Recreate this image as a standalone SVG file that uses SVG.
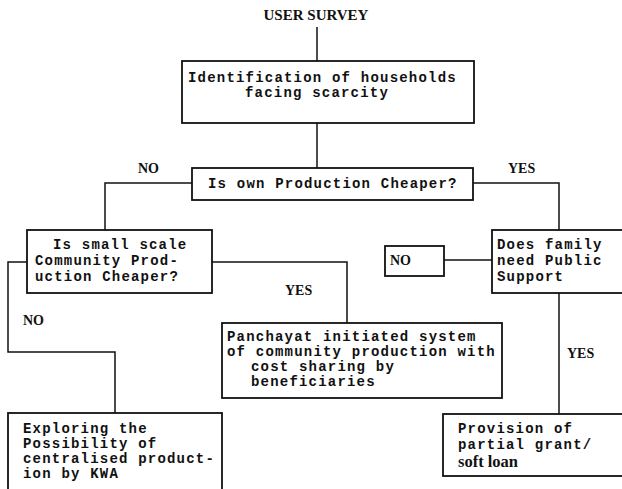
<svg xmlns="http://www.w3.org/2000/svg" width="622" height="489" viewBox="0 0 622 489">
<style>
  .box{fill:#fff;stroke:#111;stroke-width:1.8}
  .ln{fill:none;stroke:#111;stroke-width:1.5}
  .m{font-family:"Liberation Mono","Courier New",monospace;font-size:14px;letter-spacing:1.2px;font-weight:bold;fill:#111}
  .s{font-family:"Liberation Serif","Times New Roman",serif;font-size:14px;font-weight:bold;fill:#111}
</style>
<rect width="622" height="489" fill="#fff"/>
<g id="connectors">
  <path class="ln" d="M317,27 V61"/>
  <path class="ln" d="M317,123 V168"/>
  <path class="ln" d="M192,183 H105 V230"/>
  <path class="ln" d="M473,183 H559 V230"/>
  <path class="ln" d="M27,262 H8 V352 H115 V413"/>
  <path class="ln" d="M212,262 H347 V323"/>
  <path class="ln" d="M444,260 H492"/>
  <path class="ln" d="M559,293 V414"/>
</g>
<g id="user-survey"><text class="s" x="316" y="20" text-anchor="middle" style="font-size:15px">USER SURVEY</text></g>
<g id="identification">
  <rect class="box" x="182" y="61" width="292" height="62"/>
  <text class="m" x="188" y="82">Identification of households</text>
  <text class="m" x="245" y="97">facing scarcity</text>
</g>
<g id="own-production">
  <rect class="box" x="192" y="168" width="281" height="32"/>
  <text class="m" x="208" y="188">Is own Production Cheaper?</text>
</g>
<g id="labels">
  <text class="s" x="138" y="173">NO</text>
  <text class="s" x="508" y="173">YES</text>
  <text class="s" x="285" y="295">YES</text>
  <text class="s" x="23" y="325">NO</text>
  <text class="s" x="567" y="358">YES</text>
</g>
<g id="small-scale">
  <rect class="box" x="27" y="230" width="185" height="63"/>
  <text class="m" x="53" y="249">Is small scale</text>
  <text class="m" x="35" y="265">Community Prod-</text>
  <text class="m" x="35" y="281">uction Cheaper?</text>
</g>
<g id="public-support">
  <rect class="box" x="492" y="230" width="140" height="63"/>
  <text class="m" x="497" y="249">Does family</text>
  <text class="m" x="497" y="265">need Public</text>
  <text class="m" x="497" y="281">Support</text>
</g>
<g id="no-box">
  <rect class="box" x="385" y="246" width="59" height="30"/>
  <text class="s" x="390" y="265">NO</text>
</g>
<g id="panchayat">
  <rect class="box" x="222" y="323" width="280" height="75"/>
  <text class="m" x="227" y="341">Panchayat initiated system</text>
  <text class="m" x="227" y="356">of community production with</text>
  <text class="m" x="251" y="371">cost sharing by</text>
  <text class="m" x="251" y="386">beneficiaries</text>
</g>
<g id="exploring">
  <rect class="box" x="8" y="413" width="214" height="90"/>
  <text class="m" x="23" y="433">Exploring the</text>
  <text class="m" x="23" y="448">Possibility of</text>
  <text class="m" x="23" y="463">centralised product-</text>
  <text class="m" x="23" y="478">ion by KWA</text>
</g>
<g id="provision">
  <rect class="box" x="443" y="414" width="190" height="62"/>
  <text class="m" x="458" y="433">Provision of</text>
  <text class="m" x="458" y="449">partial grant/</text>
  <text class="s" x="458" y="467" style="font-size:16.5px">soft loan</text>
</g>
</svg>
